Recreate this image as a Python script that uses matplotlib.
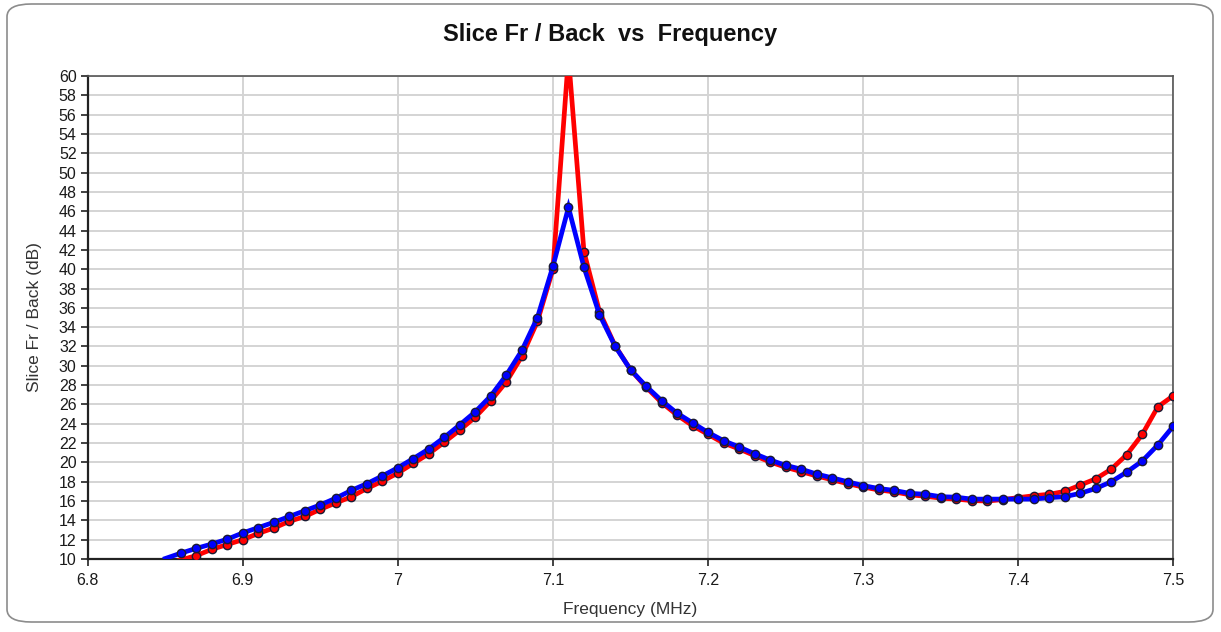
import matplotlib
matplotlib.use("Agg")
import matplotlib.pyplot as plt
from matplotlib.patches import FancyBboxPatch
from matplotlib.ticker import MultipleLocator, FormatStrFormatter, FuncFormatter

plt.rcParams['font.family'] = ['Liberation Sans', 'DejaVu Sans']

freq = [round(6.85 + 0.01 * i, 2) for i in range(66)]

fb_blue = [10.05, 10.6, 11.1, 11.55, 12.05, 12.7, 13.25, 13.8, 14.4, 15.0,
           15.6, 16.3, 17.1, 17.8, 18.6, 19.45, 20.4, 21.4, 22.6, 23.9,
           25.25, 26.9, 29.05, 31.6, 35.0, 40.3, 46.4, 40.2, 35.3, 32.05,
           29.6, 27.9, 26.4, 25.1, 24.1, 23.1, 22.25, 21.6, 20.9, 20.25,
           19.7, 19.3, 18.8, 18.4, 18.0, 17.6, 17.3, 17.1, 16.8, 16.7,
           16.45, 16.4, 16.2, 16.2, 16.2, 16.2, 16.2, 16.35, 16.45, 16.8,
           17.3, 18.0, 19.0, 20.15, 21.8, 23.75]

fb_red = [9.4, 9.9, 10.35, 11.0, 11.5, 12.0, 12.65, 13.2, 13.9, 14.4,
          15.15, 15.8, 16.45, 17.3, 18.05, 18.9, 19.9, 20.9, 22.1, 23.35,
          24.7, 26.4, 28.35, 31.0, 34.6, 40.0, 62.0, 41.8, 35.6, 32.1,
          29.6, 27.8, 26.2, 24.9, 23.8, 22.9, 22.0, 21.4, 20.7, 20.05,
          19.5, 19.05, 18.6, 18.2, 17.8, 17.45, 17.15, 16.95, 16.65, 16.5,
          16.3, 16.2, 16.05, 16.0, 16.15, 16.35, 16.55, 16.7, 17.0, 17.65,
          18.3, 19.3, 20.8, 22.9, 25.75, 26.9]

title = "Slice Fr / Back  vs  Frequency"
xlabel = "Frequency (MHz)"
ylabel = "Slice Fr / Back (dB)"

fig = plt.figure(figsize=(12.21, 6.32), dpi=100)
fig.patch.set_facecolor('white')

border = FancyBboxPatch((7 / 1221, 10 / 632), 1206 / 1221, 618 / 632,
                        boxstyle="round,pad=0,rounding_size=0.02",
                        transform=fig.transFigure, facecolor='none',
                        edgecolor='#8c8c8c', linewidth=1.2, zorder=-1)
fig.patches.append(border)

ax = fig.add_axes([87.7 / 1221, 1 - 559 / 632, (1173.3 - 87.7) / 1221, (559 - 76) / 632])
ax.set_facecolor('white')

ax.plot(freq, fb_red, color='#ff0000', lw=3.4, marker='o', markersize=6,
        markerfacecolor='#ff0000', markeredgecolor='#1a1a33', markeredgewidth=1,
        markevery=slice(2, None), zorder=3, solid_joinstyle='miter')
ax.plot(freq, fb_blue, color='#0000ff', lw=3.4, marker='o', markersize=6,
        markerfacecolor='#0000ff', markeredgecolor='#1a1a33', markeredgewidth=1,
        markevery=slice(1, None), zorder=4, solid_joinstyle='miter')

ax.set_xlim(6.8, 7.5)
ax.set_ylim(10, 60)
ax.xaxis.set_major_locator(MultipleLocator(0.1))
ax.yaxis.set_major_locator(MultipleLocator(2))
ax.xaxis.set_major_formatter(FuncFormatter(lambda v, p: f"{v:.1f}".rstrip('0').rstrip('.')))
ax.yaxis.set_major_formatter(FormatStrFormatter('%d'))
ax.grid(True, color='#d4d4d4', linewidth=1.4, zorder=1)
ax.set_axisbelow(True)

for s in ['left', 'bottom']:
    ax.spines[s].set_color('#222222')
    ax.spines[s].set_linewidth(1.6)
for s in ['top', 'right']:
    ax.spines[s].set_color('#555555')
    ax.spines[s].set_linewidth(1.2)

ax.tick_params(axis='both', direction='out', length=5, width=1.2, color='#222222',
               labelsize=11.5, labelcolor='#1a1a1a', pad=3)
ax.tick_params(axis='x', pad=5)

ax.set_xlabel(xlabel, fontsize=12.5, color='#333333', labelpad=10)
ax.set_ylabel(ylabel, fontsize=12.5, color='#333333', labelpad=12)
fig.text(0.5, 1 - 35 / 632, title, ha='center', va='center', fontsize=17,
         fontweight='bold', color='#111111')

fig.savefig('out.png', dpi=100, facecolor='white')
